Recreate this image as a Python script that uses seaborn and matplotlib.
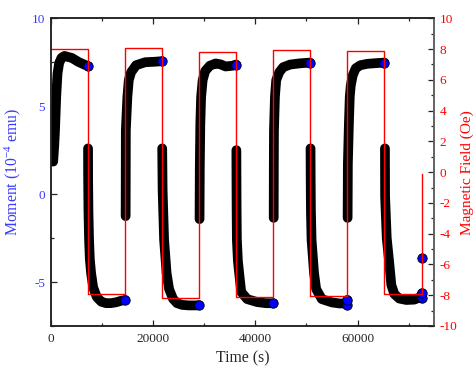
import numpy as np
import pandas as pd
import matplotlib
matplotlib.use("Agg")
import matplotlib.pyplot as plt
from matplotlib.ticker import MultipleLocator
import seaborn as sns

# ---- moment data (time in s, moment in 1e-4 emu), one list per field step ----
seg1_t = [480, 700, 842, 1076, 1330, 1650, 2100, 2700, 3400, 4110, 5420, 6700, 7240]
seg1_m = [1.85, 2.8, 3.64, 5.53, 6.86, 7.45, 7.75, 7.86, 7.8, 7.75, 7.52, 7.35, 7.29]
seg2_t = [7300, 7320, 7380, 7500, 7650, 7900, 8300, 9000, 9900, 10800, 11800, 12800, 13700, 14550]
seg2_m = [2.6, 0.8, -1.0, -2.6, -3.7, -4.5, -5.3, -5.85, -6.12, -6.2, -6.2, -6.15, -6.07, -6.02]
seg3_t = [14650, 14670, 14690, 14990, 15265, 15715, 16690, 18455, 20410, 21700]
seg3_m = [-1.25, 1.0, 3.64, 5.53, 6.48, 6.93, 7.33, 7.5, 7.53, 7.56]
seg4_t = [21800, 21880, 22170, 22660, 23150, 23900, 24700, 25700, 27000, 28200, 29000]
seg4_m = [2.6, 0.23, -2.6, -4.5, -5.4, -5.95, -6.2, -6.3, -6.33, -6.33, -6.32]
seg5_t = [29100, 29150, 29250, 29410, 29707, 30200, 31100, 32250, 33200, 34200, 35500, 36250]
seg5_m = [-1.42, 1.5, 4.0, 5.53, 6.48, 7.0, 7.3, 7.43, 7.38, 7.26, 7.3, 7.37]
seg6_t = [36300, 36320, 36350, 36400, 36600, 36850, 37250, 38420, 40370, 42000, 43500]
seg6_m = [2.5, 0.8, -1.0, -2.6, -3.8, -4.5, -5.57, -5.97, -6.14, -6.2, -6.21]
seg7_t = [43600, 43620, 43650, 43840, 44090, 44680, 45460, 46830, 48790, 50700]
seg7_m = [-1.35, 1.5, 3.6, 5.53, 6.48, 6.93, 7.22, 7.37, 7.44, 7.48]
seg8_t = [50800, 50830, 50880, 51000, 51490, 51900, 53000, 55000, 56500, 57900, 57950, 58000]
seg8_m = [2.6, 0.8, -1.0, -2.6, -4.5, -5.4, -5.97, -6.16, -6.22, -6.22, -6.3, -6.02]
seg9_t = [58050, 58100, 58300, 58470, 58670, 59060, 59650, 60530, 61900, 63670, 65250]
seg9_m = [-1.35, 1.73, 4.0, 5.53, 6.19, 6.76, 7.16, 7.33, 7.41, 7.45, 7.48]
seg10_t = [65350, 65380, 65700, 66200, 66600, 67180, 68160, 69530, 71100, 72270, 72550, 72600]
seg10_m = [2.6, -0.15, -2.5, -3.94, -5.17, -5.68, -5.94, -6.02, -6.0, -5.85, -5.93, -5.64]

# end-of-step readings shown as filled circles
dot_t = [7240, 14550, 21700, 29000, 36250, 43500, 50700, 57950, 58000, 65250, 72550, 72600, 72650]
dot_m = [7.29, -6.02, 7.56, -6.32, 7.37, -6.21, 7.48, -6.3, -6.02, 7.48, -5.93, -5.64, -3.65]

# ---- applied field (Oe) ----
field_t = [0, 7250, 7250, 14600, 14600, 21750, 21750, 29050, 29050, 36250, 36250,
           43550, 43550, 50750, 50750, 58000, 58000, 65250, 65250, 72600, 72600]
field_h = [8.0, 8.0, -7.92, -7.92, 8.05, 8.05, -8.2, -8.2, 7.78, 7.78, -8.1,
           -8.1, 7.93, 7.93, -8.05, -8.05, 7.89, 7.89, -7.94, -7.94, -0.1]

segments = [(seg1_t, seg1_m), (seg2_t, seg2_m), (seg3_t, seg3_m), (seg4_t, seg4_m),
            (seg5_t, seg5_m), (seg6_t, seg6_m), (seg7_t, seg7_m), (seg8_t, seg8_m),
            (seg9_t, seg9_m), (seg10_t, seg10_m)]
moment_df = pd.concat(
    [pd.DataFrame({"t": t, "m": m, "seg": i}) for i, (t, m) in enumerate(segments)],
    ignore_index=True)
dots_df = pd.DataFrame({"t": dot_t, "m": dot_m})
field_df = pd.DataFrame({"t": field_t, "h": field_h, "seg": 0})

sns.set_style("ticks")
plt.rcParams["font.family"] = ["Liberation Serif", "DejaVu Serif"]
plt.rcParams["mathtext.fontset"] = "custom"
plt.rcParams["mathtext.rm"] = "Liberation Serif"
plt.rcParams["mathtext.it"] = "Liberation Serif:italic"
plt.rcParams["axes.unicode_minus"] = False

BLUE_TXT = "#3a3aff"
RED = "#ff0000"

fig = plt.figure(figsize=(4.77, 3.71), dpi=100)
ax = fig.add_axes([0.1063, 0.1213, 0.8042, 0.8294])

sns.lineplot(data=moment_df, x="t", y="m", units="seg", estimator=None, sort=False,
             color="black", linewidth=7.0, solid_capstyle="round",
             solid_joinstyle="round", legend=False, ax=ax)
sns.scatterplot(data=dots_df, x="t", y="m", s=46, color="#0000ff",
                edgecolor="black", linewidth=0.6, zorder=5, legend=False, ax=ax)

ax.set_xlim(0, 75000)
ax.set_ylim(-7.5, 10)
ax.xaxis.set_major_locator(MultipleLocator(20000))
ax.xaxis.set_minor_locator(MultipleLocator(10000))
ax.yaxis.set_major_locator(MultipleLocator(5))
ax.yaxis.set_minor_locator(MultipleLocator(2.5))
ax.tick_params(axis="both", which="both", direction="in", top=True, right=False,
               labelsize=9.5, width=0.9, color="#222222")
ax.tick_params(which="major", length=4.5)
ax.tick_params(which="minor", length=2.5)
ax.tick_params(axis="x", pad=5)
ax.tick_params(axis="y", pad=4, labelcolor=BLUE_TXT)
ax.set_xlabel("Time (s)", fontsize=11.3, labelpad=4)
ax.set_ylabel("Moment (10$^{-4}$ emu)", fontsize=11.3, color=BLUE_TXT, labelpad=6)

ax2 = ax.twinx()
sns.lineplot(data=field_df, x="t", y="h", units="seg", estimator=None, sort=False,
             color=RED, linewidth=1.0, legend=False, ax=ax2)
ax2.set_ylim(-10, 10)
ax2.set_xlim(0, 75000)
ax2.yaxis.set_major_locator(MultipleLocator(2))
ax2.yaxis.set_minor_locator(MultipleLocator(1))
ax2.tick_params(axis="y", which="both", direction="in", labelsize=9.5,
                labelcolor=RED, width=0.9, color="#222222", pad=4)
ax2.tick_params(which="major", length=4.5)
ax2.tick_params(which="minor", length=2.5)
ax2.set_ylabel("Magnetic Field (Oe)", fontsize=11, color=RED, labelpad=2)

for a in (ax, ax2):
    for side in ("left", "bottom", "top"):
        a.spines[side].set_color("#222222")
        a.spines[side].set_linewidth(1.1)
    a.spines["right"].set_color("#666666")
    a.spines["right"].set_linewidth(1.4)

fig.savefig("out.png", dpi=100)
